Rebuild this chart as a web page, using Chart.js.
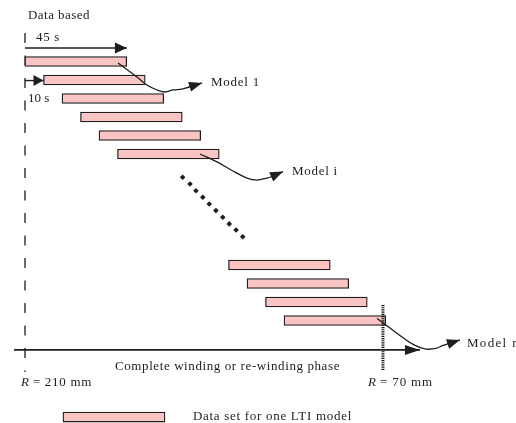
<!DOCTYPE html>
<html>
<head>
<meta charset="utf-8">
<script src="https://cdn.jsdelivr.net/npm/chart.js@4.4.1/dist/chart.umd.min.js"></script>
<style>
  html, body { margin: 0; padding: 0; background: #fff; }
  #wrap { width: 516px; height: 423px; }
</style>
</head>
<body>
<div id="wrap"><canvas id="myChart"></canvas></div>
<script>
// ----- data (x = time in s from R = 210 mm, y = data set row from top) -----
const windowStarts = [0, 10, 20, 30, 40, 50, 110, 120, 130, 140];
const windowRows   = [0, 1, 2, 3, 4, 5, 11, 12, 13, 14];
const windowLength = 55;

const legendStart = 20.5;
const legendEnd   = 75.7;
const legendRow   = 19.22;

const model1T = [50.3, 60.5, 65.9, 71.4, 75.7, 80.0, 84.9, 95.7];
const model1R = [0.08, 0.84, 1.27, 1.54, 1.65, 1.54, 1.49, 1.16];
const modeliT = [94.6, 103.8, 112.4, 120.0, 125.4, 130.8, 134.1, 139.5];
const modeliR = [5.0, 5.43, 5.92, 6.30, 6.41, 6.30, 6.19, 5.95];
const modelnT = [190.3, 197.3, 203.8, 210.3, 216.2, 222.2, 225.9, 235.1];
const modelnR = [13.89, 14.41, 14.89, 15.32, 15.54, 15.51, 15.35, 15.05];

// dots for the skipped data sets
const gapT = [85.2, 89.2, 92.4, 96.1, 99.6, 103.2, 106.9, 110.4, 114.1, 117.7];
const gapR = [6.26, 6.62, 6.99, 7.34, 7.70, 8.06, 8.42, 8.78, 9.11, 9.47];

const phaseT = [-5.9, 213.5];   // complete winding phase axis
const phaseRow = 15.59;
const startLineT = 0;           // R = 210 mm
const startLineR = [-1.54, 16.78];
const endLineT = 193.5;         // R = 70 mm
const endLineR = [13.16, 16.7];
const span45T = [0, 55.1];
const span45Row = -0.73;
const shift10T = [0, 10];
const shift10Row = 1.03;

const notes = [
  { text: 'Data based', t: 1.62, r: -2.46, w: 62 },
  { text: '45 s', t: 5.95, r: -1.30, w: 24 },
  { text: '10 s', t: 1.62, r: 2.03, w: 21 },
  { text: 'Model 1', t: 100.5, r: 1.16, w: 49 },
  { text: 'Model i', t: 144.3, r: 5.97, w: 46 },
  { text: 'Model n', t: 238.9, r: 15.27, w: 53 },
  { text: 'Complete winding or re-winding phase', t: 48.65, r: 16.51, w: 225 },
  { lead: 'R', text: ' = 210 mm', t: -2.16, r: 17.38, w: 71 },
  { lead: 'R', text: ' = 70 mm', t: 185.4, r: 17.38, w: 65 },
  { text: 'Data set for one LTI model', t: 90.8, r: 19.22, w: 159 },
];

const INK = '#1e1e1e';
const PINK = '#f8c4c4';

const pts = (ts, rs) => ts.map((t, k) => ({ x: t, y: rs[k] }));

const arrowHeads = {
  id: 'arrowHeads',
  afterDatasetsDraw(chart) {
    const ctx = chart.ctx;
    chart.data.datasets.forEach((ds, i) => {
      if (!ds.arrow) return;
      const el = chart.getDatasetMeta(i).data;
      const a = el[el.length - 2], b = el[el.length - 1];
      const ang = Math.atan2(b.y - a.y, b.x - a.x);
      ctx.save();
      ctx.translate(b.x, b.y);
      ctx.rotate(ang);
      ctx.beginPath();
      ctx.moveTo(0, 0);
      ctx.lineTo(-ds.arrow[0], -ds.arrow[1]);
      ctx.lineTo(-ds.arrow[0], ds.arrow[1]);
      ctx.closePath();
      ctx.fillStyle = INK;
      ctx.fill();
      ctx.restore();
    });
  }
};

const notesPlugin = {
  id: 'notes',
  afterDraw(chart) {
    const { ctx, scales: { x, y } } = chart;
    ctx.save();
    ctx.fillStyle = INK;
    ctx.textBaseline = 'middle';
    notes.forEach(n => {
      const x0 = x.getPixelForValue(n.t);
      let px = x0;
      const py = y.getPixelForValue(n.r);
      const size = n.size || 13;
      ctx.letterSpacing = '0px';
      if (n.lead) {
        ctx.font = 'italic ' + size + 'px "Liberation Serif"';
        ctx.fillText(n.lead, px, py);
        px += ctx.measureText(n.lead).width;
      }
      ctx.font = size + 'px "Liberation Serif"';
      const natural = ctx.measureText(n.text).width;
      const room = n.w - (px - x0);
      ctx.letterSpacing = Math.max(0, (room - natural) / n.text.length) + 'px';
      ctx.fillText(n.text, px, py);
    });
    ctx.restore();
  }
};

const lineSet = (data, extra) => Object.assign({
  type: 'line',
  data: data,
  borderColor: INK,
  borderWidth: 1.3,
  pointRadius: 0,
  fill: false,
  order: 1
}, extra);

const ctx = document.getElementById('myChart').getContext('2d');
new Chart(ctx, {
  type: 'scatter',
  data: {
    datasets: [
      lineSet(pts(model1T, model1R), { tension: 0.35, arrow: [13, 5] }),
      lineSet(pts(modeliT, modeliR), { tension: 0.35, arrow: [13, 5] }),
      lineSet(pts(modelnT, modelnR), { tension: 0.35, arrow: [13, 5] }),
      lineSet(pts(phaseT, [phaseRow, phaseRow]), { borderWidth: 1.7, arrow: [15, 5] }),
      lineSet(pts(span45T, [span45Row, span45Row]), { borderWidth: 1.4, arrow: [12, 5.5] }),
      lineSet(pts(shift10T, [shift10Row, shift10Row]), { borderWidth: 1.4, arrow: [10, 5.5] }),
      lineSet(pts([startLineT, startLineT], startLineR), { borderColor: '#3a3a3a', borderWidth: 1.5, borderDash: [10, 12.5] }),
      lineSet(pts([endLineT, endLineT], endLineR), { borderColor: '#151515', borderWidth: 3, borderDash: [1.2, 1] }),
      {
        type: 'scatter',
        data: pts(gapT, gapR),
        pointStyle: 'rectRot',
        pointRadius: 2.8,
        backgroundColor: INK,
        borderWidth: 0,
        order: 1
      },
      {
        type: 'bar',
        indexAxis: 'y',
        data: windowStarts.map((s, k) => ({ y: windowRows[k], x: [s, s + windowLength] })),
        backgroundColor: PINK,
        borderColor: INK,
        borderWidth: 1.3,
        borderSkipped: false,
        barThickness: 10,
        grouped: false,
        order: 2
      },
      {
        type: 'bar',
        indexAxis: 'y',
        data: [{ y: legendRow, x: [legendStart, legendEnd] }],
        backgroundColor: PINK,
        borderColor: INK,
        borderWidth: 1.3,
        borderSkipped: false,
        barThickness: 10,
        grouped: false,
        order: 2
      }
    ]
  },
  options: {
    responsive: true,
    maintainAspectRatio: false,
    animation: false,
    events: [],
    layout: { padding: 0, autoPadding: false },
    plugins: { legend: { display: false }, tooltip: { enabled: false } },
    scales: {
      x: { type: 'linear', display: false, offset: false, min: -13.51, max: 265.41 },
      y: { type: 'linear', display: false, offset: false, reverse: true, min: -3.324, max: 19.541 }
    }
  },
  plugins: [arrowHeads, notesPlugin]
});
</script>
</body>
</html>
